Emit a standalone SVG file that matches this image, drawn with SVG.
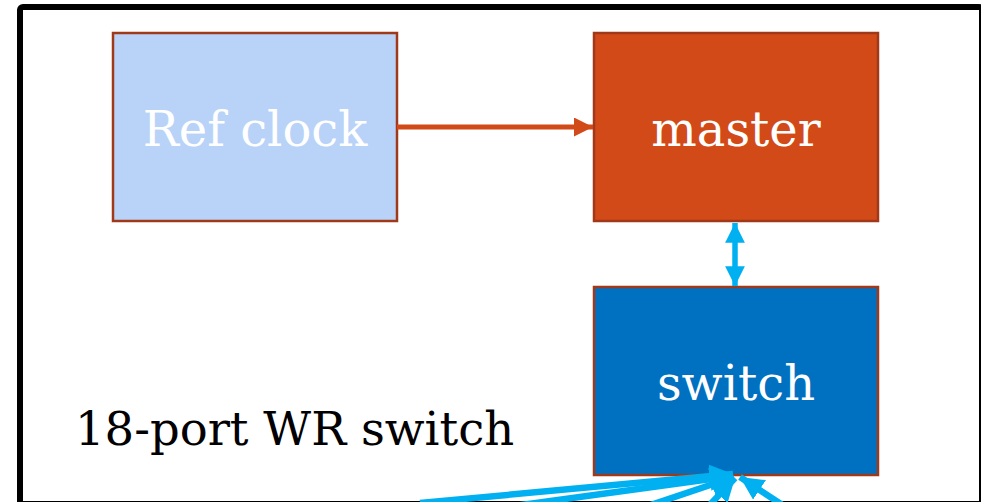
<svg xmlns="http://www.w3.org/2000/svg" width="981" height="502" viewBox="0 0 981 502">
<defs>
<style>
.box{stroke:#A0381A;stroke-width:2.5}
.lbl{font-family:"DejaVu Serif","Liberation Serif",serif;fill:#ffffff;font-size:48px;text-anchor:middle}
.cy{stroke:#00B0F0;stroke-width:5.5;fill:none}
.cyb{stroke:#00B0F0;stroke-width:6.5;fill:none}
</style>
<marker id="ah-or" viewBox="0 0 10 10" refX="10" refY="5" markerWidth="3.8" markerHeight="3.8" markerUnits="strokeWidth" orient="auto"><path d="M0,0 L10,5 L0,10 z" fill="#D24A18"/></marker>
<marker id="ah-cy" viewBox="0 0 10 10" refX="10" refY="5" markerWidth="3.6" markerHeight="3.6" markerUnits="strokeWidth" orient="auto-start-reverse"><path d="M0,0 L10,5 L0,10 z" fill="#00B0F0"/></marker>
</defs>
<rect width="981" height="502" fill="#ffffff"/>
<rect x="20" y="7" width="962" height="497" rx="3" fill="none" stroke="#000000" stroke-width="6"/>
<g id="refclock">
<rect class="box" x="113" y="33" width="284" height="188" fill="#B9D3F8"/>
<text class="lbl" x="255" y="146">Ref clock</text>
</g>
<g id="master">
<rect class="box" x="594" y="33" width="284" height="188" fill="#D24A18"/>
<text class="lbl" x="736" y="146">master</text>
</g>
<g id="switch">
<rect class="box" x="594" y="287" width="284" height="188" fill="#0070C0"/>
<text class="lbl" x="736" y="400">switch</text>
</g>
<g id="caption">
<text x="75" y="445" font-family="DejaVu Serif, Liberation Serif, serif" font-size="46.5" fill="#000000">18-port WR switch</text>
</g>
<g id="connectors">
<line x1="397" y1="127" x2="593" y2="127" stroke="#D24A18" stroke-width="5" marker-end="url(#ah-or)"/>
<line class="cy" x1="735" y1="223" x2="735" y2="286" marker-start="url(#ah-cy)" marker-end="url(#ah-cy)"/>
<line class="cyb" x1="420" y1="503" x2="733" y2="474" marker-end="url(#ah-cy)"/>
<line class="cyb" x1="470" y1="512" x2="733" y2="476" marker-end="url(#ah-cy)"/>
<line class="cyb" x1="630" y1="512" x2="734" y2="477" marker-end="url(#ah-cy)"/>
<line class="cyb" x1="705" y1="510" x2="735" y2="478" marker-end="url(#ah-cy)"/>
<line class="cyb" x1="790" y1="510" x2="740" y2="477" marker-end="url(#ah-cy)"/>
</g>
</svg>
